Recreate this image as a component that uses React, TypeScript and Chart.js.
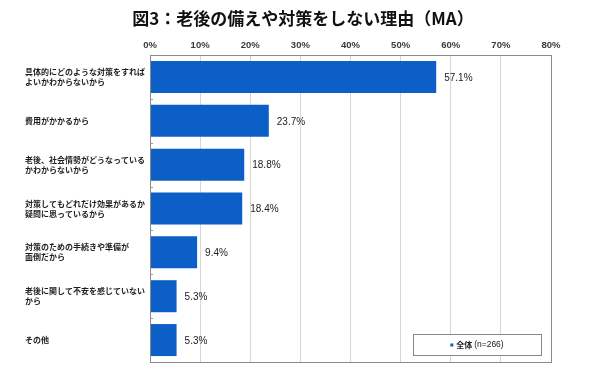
import { useEffect, useRef } from "react";
import { Chart, registerables } from "chart.js";

Chart.register(...registerables);

const titleText = "図3：老後の備えや対策をしない理由（MA）";
const categories: (string | string[])[] = [
  ["具体的にどのような対策をすれば", "よいかわからないから"],
  "費用がかかるから",
  ["老後、社会情勢がどうなっている", "かわからないから"],
  ["対策してもどれだけ効果があるか", "疑問に思っているから"],
  ["対策のための手続きや準備が", "面倒だから"],
  ["老後に関して不安を感じていない", "から"],
  "その他",
];
const values = [57.1, 23.7, 18.8, 18.4, 9.4, 5.3, 5.3];
const seriesLabel = "全体";
const sampleNote = "(n=266)";
const xMin = 0;
const xMax = 80;
const xStep = 10;

const JP = "'Noto Sans CJK JP', 'Noto Sans', sans-serif";
const LAT = "'Liberation Sans', Arial, sans-serif";
const BLUE = "#0b5fc6";

const decorPlugin = {
  id: "decor",
  afterDraw(chart: any) {
    const ctx = chart.ctx;
    const { left, right, top, bottom } = chart.chartArea;
    ctx.save();
    // title
    ctx.fillStyle = "#111";
    ctx.font = `bold 17px ${JP}`;
    ctx.textAlign = "center";
    ctx.textBaseline = "middle";
    ctx.fillText(titleText, chart.width / 2 + 3, 19);

    // plot border
    ctx.strokeStyle = "#8a8a8a";
    ctx.lineWidth = 1;
    ctx.strokeRect(Math.round(left) + 0.5, Math.round(top) + 0.5, Math.round(right - left), Math.round(bottom - top));
    // small inner marks on y axis between categories
    const ys = chart.scales.y;
    ctx.strokeStyle = "#999";
    for (let i = 0; i < categories.length - 1; i++) {
      const y = (ys.getPixelForValue(i) + ys.getPixelForValue(i + 1)) / 2;
      ctx.beginPath();
      ctx.moveTo(left, Math.round(y) + 0.5);
      ctx.lineTo(left + 3, Math.round(y) + 0.5);
      ctx.stroke();
    }

    // value labels
    const meta = chart.getDatasetMeta(0);
    ctx.fillStyle = "#222";
    ctx.font = `10px ${LAT}`;
    ctx.textAlign = "left";
    ctx.textBaseline = "middle";
    meta.data.forEach((bar: any, i: number) => {
      ctx.fillText(values[i].toFixed(1) + "%", bar.x + 8, bar.y + 1);
    });

    // legend box
    const bw = 128;
    const bh = 21;
    const bx = Math.round(right - 10 - bw);
    const by = Math.round(bottom - 7 - bh);
    ctx.fillStyle = "#fff";
    ctx.fillRect(bx, by, bw, bh);
    ctx.strokeStyle = "#888";
    ctx.strokeRect(bx + 0.5, by + 0.5, bw, bh);
    const cy = by + bh / 2 + 0.5;
    ctx.font = `bold 8px ${JP}`;
    const w1 = ctx.measureText(seriesLabel + " ").width;
    ctx.font = `8.5px ${LAT}`;
    const w2 = ctx.measureText(sampleNote).width;
    const total = 6 + w1 + w2;
    let x = bx + bw / 2 - total / 2;
    ctx.fillStyle = BLUE;
    ctx.fillRect(x, cy - 1.5, 3, 3);
    x += 6;
    ctx.fillStyle = "#222";
    ctx.font = `bold 8px ${JP}`;
    ctx.fillText(seriesLabel + " ", x, cy);
    x += w1;
    ctx.font = `8.5px ${LAT}`;
    ctx.fillText(sampleNote, x, cy);
    ctx.restore();
  },
};

export default function App() {
  const ref = useRef<HTMLCanvasElement>(null);
  useEffect(() => {
    if (!ref.current) return;
    const chart = new Chart(ref.current, {
      type: "bar",
      data: {
        labels: categories,
        datasets: [
          {
            label: seriesLabel,
            data: values,
            backgroundColor: BLUE,
            borderWidth: 0,
            barPercentage: 0.73,
            categoryPercentage: 1,
          },
        ],
      },
      options: {
        indexAxis: "y",
        responsive: false,
        animation: false,
        layout: { padding: { left: 25, right: 49, top: 29, bottom: 14 } },
        plugins: {
          legend: { display: false },
          title: { display: false },
          tooltip: { enabled: false },
        },
        scales: {
          x: {
            position: "top",
            min: xMin,
            max: xMax,
            ticks: {
              stepSize: xStep,
              callback: (v: any) => v + "%",
              font: { family: LAT, size: 9.5, weight: "bold" },
              color: "#3a3a3a",
              padding: 4,
            },
            grid: { color: "#d6d6d6", drawTicks: false },
            border: { display: false },
            afterFit: (s: any) => {
              s.height = 26;
            },
          },
          y: {
            type: "category",
            offset: true,
            ticks: {
              crossAlign: "far",
              autoSkip: false,
              font: { family: JP, size: 8, weight: "bold", lineHeight: 1.25 },
              color: "#1e1e1e",
            },
            grid: { display: false, drawTicks: false },
            border: { display: false },
            afterFit: (s: any) => {
              s.width = 125;
            },
          },
        },
      } as any,
      plugins: [decorPlugin],
    });
    return () => chart.destroy();
  }, []);
  return (
    <div style={{ position: "absolute", left: 0, top: 0, width: 600, height: 376, background: "#fff" }}>
      <canvas ref={ref} width={600} height={376} style={{ display: "block" }} />
    </div>
  );
}
